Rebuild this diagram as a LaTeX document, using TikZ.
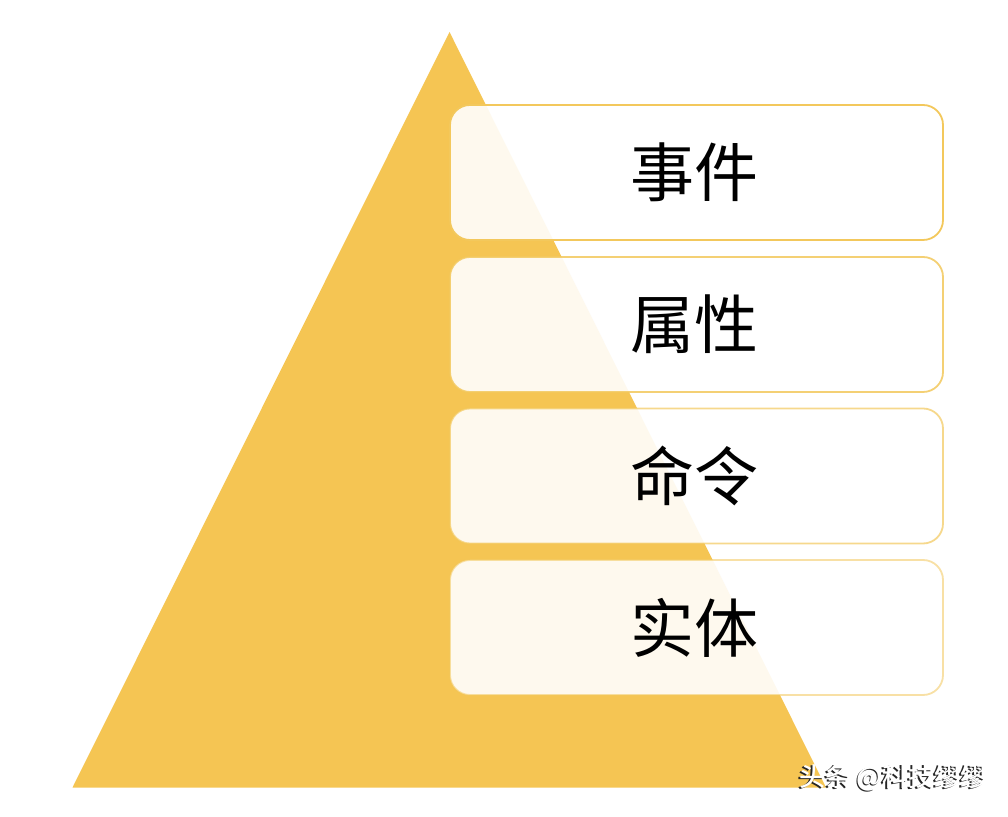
\documentclass[tikz,border=0pt]{standalone}
\usepackage{fontspec}
\newfontfamily\cjk{Noto Sans CJK SC}
\newfontfamily\cjkb{Noto Sans CJK SC Medium}
\definecolor{tri}{RGB}{245,197,83}
\definecolor{edge}{RGB}{243,200,92}
\newcommand{\lift}[1]{\hspace*{-4pt}\raisebox{4pt}{#1}}
\begin{document}
\begin{tikzpicture}[x=1pt,y=1pt,
  layer/.style={draw=edge, line width=1.8pt, fill=white, fill opacity=0.9,
    text opacity=1, rounded corners=20pt, minimum width=493pt, minimum height=135pt,
    inner sep=0pt, font=\cjk\fontsize{64}{64}\selectfont},
  wmtext/.style={font=\cjkb\fontsize{26}{26}\selectfont, inner sep=0pt}]
\useasboundingbox (0,0) rectangle (1008,816);
\fill[white] (0,0) rectangle (1008,816);
\fill[tri] (72.5,28.5) -- (449.5,784) -- (826,28.5) -- cycle;
\node[layer, draw opacity=1]    (l1) at (696.5,643.5) {\lift{事件}};
\node[layer, draw opacity=0.85] (l2) at (696.5,491.5) {\lift{属性}};
\node[layer, draw opacity=0.7]  (l3) at (696.5,340)   {\lift{命令}};
\node[layer, draw opacity=0.55] (l4) at (696.5,188.5) {\lift{实体}};
\node[wmtext, text=black!85] (wms) at (891,37) {头条 @科技缪缪};
\node[wmtext, text=white] (wm) at (892.6,38.6) {头条 @科技缪缪};
\end{tikzpicture}
\end{document}
